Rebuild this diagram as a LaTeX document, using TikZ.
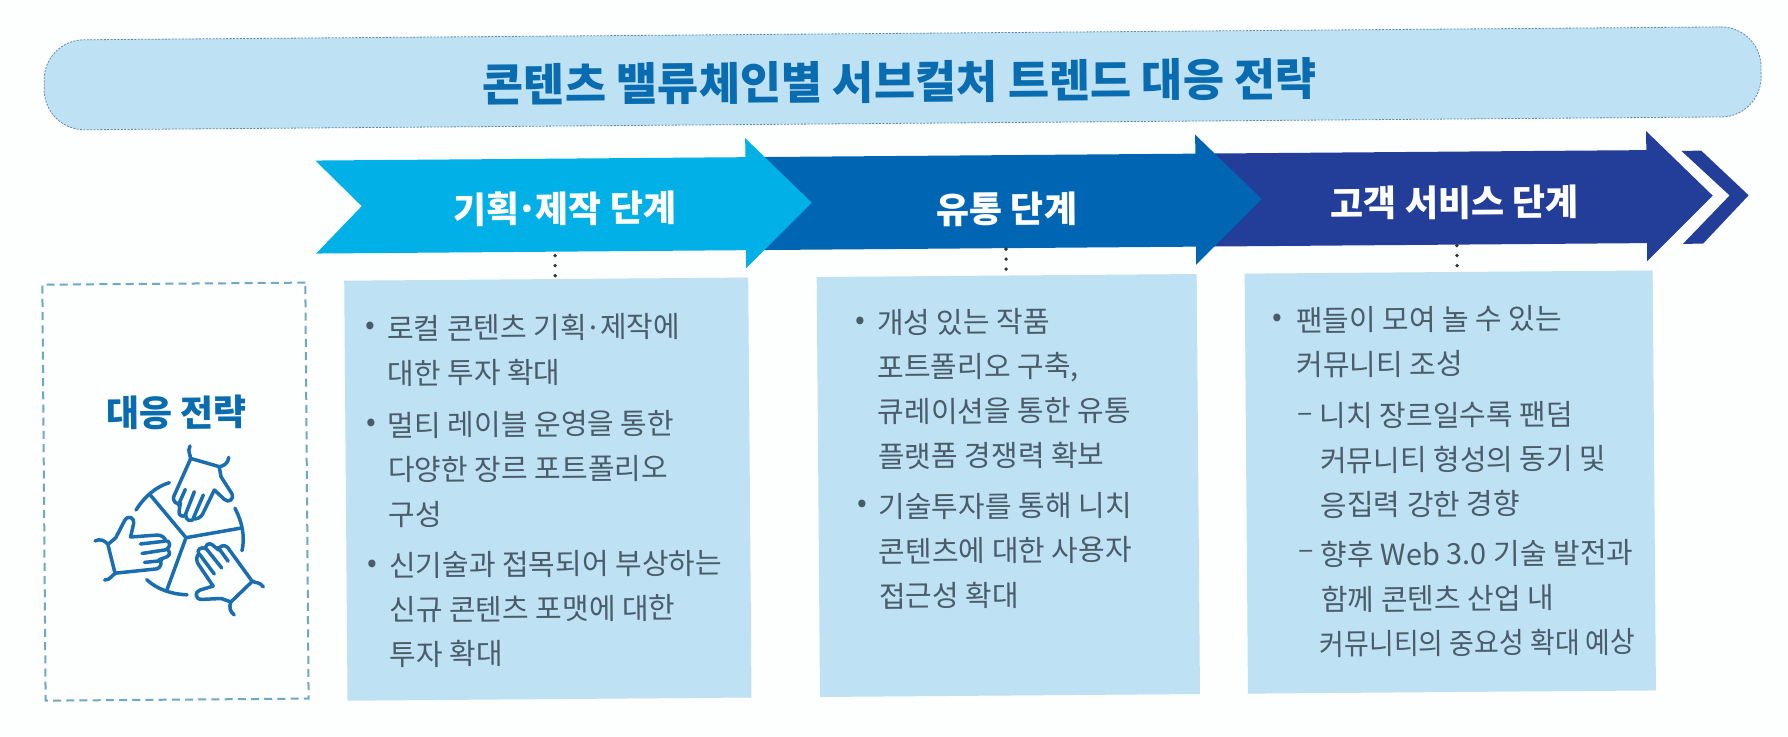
\documentclass[tikz,border=0pt]{standalone}
\usepackage{fontspec}
\setmainfont{Noto Sans CJK KR}
\definecolor{paper}{HTML}{FDFEFE}
\definecolor{pale}{HTML}{BEE2F4}
\definecolor{heading}{HTML}{0A6CB0}
\definecolor{bodyink}{HTML}{4A5C69}
\definecolor{arrowA}{HTML}{00B0E6}
\definecolor{arrowB}{HTML}{0066B3}
\definecolor{arrowC}{HTML}{233E99}
\definecolor{dashline}{HTML}{6FA8C4}
\definecolor{pillline}{HTML}{5B8CA8}
\definecolor{iconink}{HTML}{1A6DAE}
\tikzset{
  titlepill/.style={fill=pale,draw=pillline,line width=0.4pt,dash pattern=on 1pt off 0.7pt,rounded corners=20pt,minimum width=858.5pt,minimum height=45pt,inner sep=0pt,anchor=north west},
  titletext/.style={text=heading,inner sep=0pt,font=\bfseries\fontsize{22.4pt}{26pt}\selectfont},
  stagelabel/.style={text=white,font=\bfseries\fontsize{18pt}{22pt}\selectfont,inner sep=0pt},
  panel/.style={fill=pale,minimum height=210pt,inner sep=0pt,anchor=north west},
  scopebox/.style={draw=dashline,line width=1pt,dash pattern=on 4pt off 2.6pt,minimum width=131.5pt,minimum height=208pt,inner sep=0pt,anchor=north west},
  scopelabel/.style={text=heading,font=\bfseries\fontsize{18pt}{22pt}\selectfont,inner sep=0pt},
  para/.style={text=bodyink,anchor=west,align=left,inner sep=0pt,font=\fontsize{14.5pt}{22.3pt}\selectfont},
  listmark/.style={text=bodyink,inner sep=0pt,font=\fontsize{14.5pt}{22.3pt}\selectfont},
  dots/.style={line width=1.9pt,line cap=round,dash pattern=on 0pt off 5pt,draw=black!80},
  iconline/.style={draw=iconink,line width=1.75pt,line cap=round,line join=round}
}
\newcommand{\stagearrow}[4]{% tail, notch, neck, tip
  (#1,156) -- (#3,156) -- (#3,137) -- (#4,202) -- (#3,267) -- (#3,249) -- (#1,249) -- (#2,202) -- cycle}
\begin{document}
\begin{tikzpicture}[x=0.5pt,y=-0.5pt]
\useasboundingbox (0,0) rectangle (1788,736);
\fill[paper] (0,0) rectangle (1788,736);
\begin{scope}[rotate around={0.45:(894,368)},every node/.append style={transform shape}]
  \node[titlepill] (title) at (46,33) {};
  \node[titletext] (titlelabel) at (902,82) {콘텐츠 밸류체인별 서브컬처 트렌드 대응 전략};
  % arrows, back to front
  \fill[arrowC] \stagearrow{1200}{1200}{1648}{1714};
  \fill[arrowC] (1683,157) -- (1703,157) -- (1750,202) -- (1704,250) -- (1684,250) -- (1731,202) -- cycle;
  \fill[arrowB] \stagearrow{760}{760}{1197}{1263};
  \fill[arrowA] \stagearrow{317}{363}{747}{813};
  \node[stagelabel] (stageA) at (566,206) {기획\kern-1.5pt·\kern-1.5pt제작 단계};
  \node[stagelabel] (stageB) at (1008,210) {유통 단계};
  \node[stagelabel] (stageC) at (1456,207) {고객 서비스 단계};
  % panels
  \node[scopebox] (scope) at (42,277) {};
  \node[scopelabel] (scopetext) at (176,407) {대응 전략};
  \node[panel,minimum width=202pt] (panelA) at (344.5,276) {};
  \node[panel,minimum width=190pt] (panelB) at (817,276) {};
  \node[panel,minimum width=204pt] (panelC) at (1245,276) {};
  % dotted links
  \coordinate (aTop) at (556,253); \coordinate (aEnd) at (556,274);
  \coordinate (bTop) at (1007,250); \coordinate (bEnd) at (1007,271);
  \coordinate (cTop) at (1458,250); \coordinate (cEnd) at (1458,271);
  \draw[dots] (aTop) -- (aEnd);
  \draw[dots] (bTop) -- (bEnd);
  \draw[dots] (cTop) -- (cEnd);
  % panel A
  \node[listmark] (ma1) at (371,324) {•};
  \node[para] (pa1) at (387,347) {로컬 콘텐츠 기획\kern-0.8pt·\kern-0.8pt제작에\\대한 투자 확대};
  \node[listmark] (ma2) at (371,421) {•};
  \node[para] (pa2) at (387,466) {멀티 레이블 운영을 통한\\다양한 장르 포트폴리오\\구성};
  \node[listmark] (ma3) at (371,562) {•};
  \node[para] (pa3) at (387,606) {신기술과 접목되어 부상하는\\신규 콘텐츠 포맷에 대한\\투자 확대};
  % panel B
  \node[listmark] (mb1) at (861,323) {•};
  \node[para] (pb1) at (877,389.5) {개성 있는 작품\\포트폴리오 구축,\\큐레이션을 통한 유통\\플랫폼 경쟁력 확보};
  \node[listmark] (mb2) at (861,506) {•};
  \node[para] (pb2) at (877,551.5) {기술투자를 통해 니치\\콘텐츠에 대한 사용자\\접근성 확대};
  % panel C
  \node[listmark] (mc1) at (1278,323.5) {•};
  \node[para] (pc1) at (1296,346) {팬들이 모여 놀 수 있는\\커뮤니티 조성};
  \node[listmark] (mc2) at (1305,420.7) {–};
  \node[para] (pc2) at (1319,464) {니치 장르일수록 팬덤\\커뮤니티 형성의 동기 및\\응집력 강한 경향};
  \node[listmark] (mc3) at (1305,558.6) {–};
  \node[para] (pc3) at (1317,603) {\hspace{1pt}향후 Web 3.0 기술 발전과\\\hspace{1pt}함께 콘텐츠 산업 내\\\scalebox{0.93}[1]{커뮤니티의 중요성 확대 예상}};
\end{scope}
% hands icon, three copies turned about its centre
\begin{scope}[shift={(91,440)},x=0.16667pt,y=-0.16667pt]
  \foreach \a in {0,120,-120}{
    \begin{scope}[rotate around={\a:(285,293)}]
      \draw[iconline] (135,210) .. controls (160,170) and (195,140) .. (235,128);
      \draw[iconline] (285,293) -- (178,165);
      \draw[iconline] (298,58) -- (248,170) .. controls (243,182) and (258,196) .. (268,190)
        -- (264,215) .. controls (262,228) and (278,232) .. (284,225)
        .. controls (284,242) and (302,248) .. (308,235)
        .. controls (315,240) and (330,232) .. (335,222)
        -- (370,150) -- (400,178) .. controls (412,190) and (432,178) .. (422,160)
        -- (390,110) -- (385,82);
      \draw[iconline] (297,18) .. controls (288,35) and (300,45) .. (298,55) -- (385,80)
        .. controls (400,78) and (412,68) .. (413,52);
      \draw[iconline] (283,148) -- (262,195);
      \draw[iconline] (310,155) -- (284,222);
      \draw[iconline] (337,165) -- (308,232);
    \end{scope}
  }
\end{scope}
\end{tikzpicture}
\end{document}
